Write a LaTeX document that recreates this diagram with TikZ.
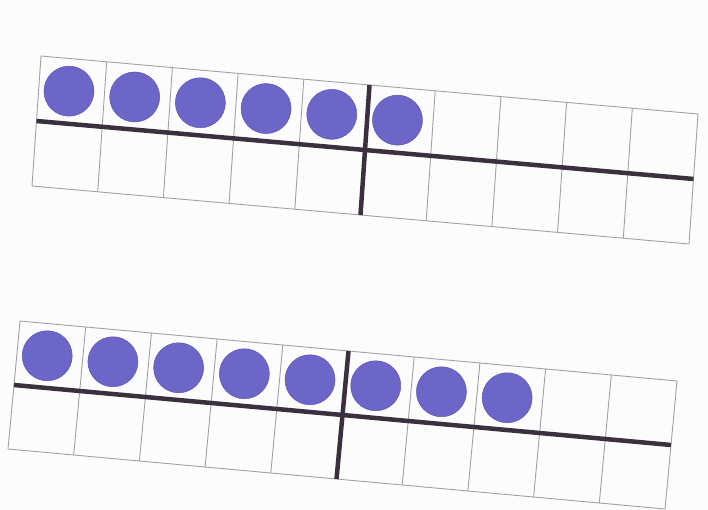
\documentclass[tikz,border=0pt]{standalone}
\definecolor{dotcol}{RGB}{108,102,200}
\definecolor{barcol}{RGB}{58,48,62}
\definecolor{gridcol}{RGB}{160,160,166}
\definecolor{papercol}{RGB}{252,252,253}
\tikzset{
  thinline/.style={draw=gridcol, line width=0.9pt},
  thickline/.style={draw=barcol, line width=4.5pt},
  counter/.style={fill=dotcol, draw=dotcol!85!black, line width=0.5pt}
}
\begin{document}
\begin{tikzpicture}[x=1pt,y=1pt]
\fill[papercol] (0,0) rectangle (708,510);
\useasboundingbox (0,0) rectangle (708,510);
% top frame
\begin{scope}[shift={(41pt,454pt)}, x={(65.7pt,-5.8pt)}, y={(-4.5pt,-65pt)}]
  \foreach \i in {0,...,10} \draw[thinline] (\i,0) -- (\i,2);
  \foreach \j in {0,1,2} \draw[thinline] (0,\j) -- (10,\j);
  \foreach \k in {0,...,5} \path[counter] (\k+0.46,0.5) circle (25pt);
  \draw[thickline] (0,1) -- (10,1);
  \draw[thickline] (5,0) -- (5,2);
\end{scope}
% bottom frame
\begin{scope}[shift={(20pt,189pt)}, x={(65.7pt,-6pt)}, y={(-6pt,-64pt)}]
  \foreach \i in {0,...,10} \draw[thinline] (\i,0) -- (\i,2);
  \foreach \j in {0,1,2} \draw[thinline] (0,\j) -- (10,\j);
  \foreach \k in {0,...,7} \path[counter] (\k+0.46,0.5) circle (25pt);
  \draw[thickline] (0,1) -- (10,1);
  \draw[thickline] (5,0) -- (5,2);
\end{scope}
\end{tikzpicture}
\end{document}
